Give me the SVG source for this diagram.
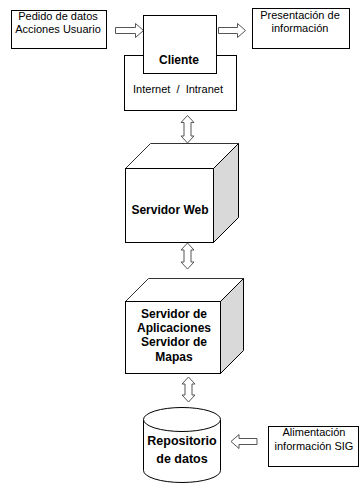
<svg xmlns="http://www.w3.org/2000/svg" width="359" height="484" viewBox="0 0 359 484">
<style>
.box{fill:#fff;stroke:#000;stroke-width:1}
.side{fill:#d9d9d9;stroke:#000;stroke-width:1}
.top{fill:#fff;stroke:#333;stroke-width:1}
.arr{fill:#fff;stroke:#555;stroke-width:1;stroke-linejoin:miter}
.t{font-family:"Liberation Sans",Arial,sans-serif;font-size:11px;fill:#000;text-anchor:middle}
.b{font-family:"Liberation Sans",Arial,sans-serif;font-size:12px;font-weight:bold;fill:#000;text-anchor:middle}
</style>
<rect width="359" height="484" fill="#fff"/>
<g id="connectors">
<path class="arr" d="M115.5,27.5 H135.5 V23.5 L143.5,30.5 L135.5,37.5 V33.5 H115.5 Z"/>
<path class="arr" d="M218.5,27.5 H237.5 V23.5 L245.5,30.5 L237.5,37.5 V33.5 H218.5 Z"/>
<path class="arr" d="M187.5,115.5 L194,122.5 H191 V136 H194 L187.5,143 L181,136 H184 V122.5 H181 Z"/>
<path class="arr" d="M187.5,243 L194,250 H191 V262 H194 L187.5,269 L181,262 H184 V250 H181 Z"/>
<path class="arr" d="M188.5,377 L195,384 H192 V395 H195 L188.5,402 L182,395 H185 V384 H182 Z"/>
<path class="arr" d="M231,441.5 L239,434.5 V438.5 H257 V444.5 H239 V448.5 Z"/>
</g>
<g id="pedido">
<rect class="box" x="11.5" y="10.5" width="95" height="38"/>
<text class="t" x="58" y="20">Pedido de datos</text>
<text class="t" x="58" y="33">Acciones Usuario</text>
</g>
<g id="internet">
<rect class="box" x="124.5" y="55.5" width="112" height="55"/>
<text class="t" x="178" y="93" xml:space="preserve">Internet  /  Intranet</text>
</g>
<g id="cliente">
<rect class="box" x="143.5" y="15.5" width="73" height="58"/>
<text class="b" x="179" y="64">Cliente</text>
</g>
<g id="presentacion">
<rect class="box" x="252.5" y="8.5" width="97" height="40"/>
<text class="t" x="300" y="19">Presentación de</text>
<text class="t" x="300" y="32">información</text>
</g>
<g id="servidor-web">
<path class="top" d="M125.5,168.5 L150.5,143.5 H238.5 L213.5,168.5 Z"/>
<path class="side" d="M213.5,168.5 L238.5,143.5 V217.5 L213.5,242.5 Z"/>
<rect class="box" x="125.5" y="168.5" width="88" height="74"/>
<text class="b" x="170" y="214">Servidor Web</text>
</g>
<g id="servidor-aplicaciones">
<path class="top" d="M125.5,301.5 L148.5,278.5 H243.5 L220.5,301.5 Z"/>
<path class="side" d="M220.5,301.5 L243.5,278.5 V350.5 L220.5,373.5 Z"/>
<rect class="box" x="125.5" y="301.5" width="95" height="72"/>
<text class="b" x="174" y="318">Servidor de</text>
<text class="b" x="174" y="332">Aplicaciones</text>
<text class="b" x="174" y="346">Servidor de</text>
<text class="b" x="174" y="361">Mapas</text>
</g>
<g id="repositorio">
<path class="box" d="M143.5,419.5 V470.5 A38.5,12 0 0 0 220.5,470.5 V419.5"/>
<ellipse class="box" cx="182" cy="419.5" rx="38.5" ry="12"/>
<text class="b" x="182" y="445" style="font-size:12.5px">Repositorio</text>
<text class="b" x="182" y="463" style="font-size:12.5px">de datos</text>
</g>
<g id="alimentacion">
<rect class="box" x="268.5" y="426.5" width="90" height="40"/>
<text class="t" x="314" y="436">Alimentación</text>
<text class="t" x="314" y="450">información SIG</text>
</g>
</svg>
